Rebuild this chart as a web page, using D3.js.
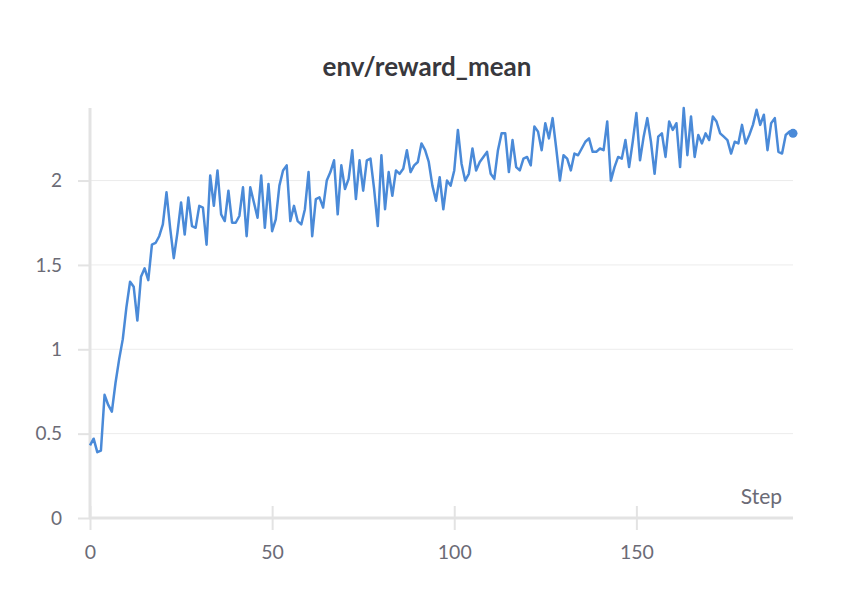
<!DOCTYPE html>
<html>
<head>
<meta charset="utf-8">
<script src="https://cdn.jsdelivr.net/npm/d3@7"></script>
<style>
  body { margin: 0; background: #fff; }
  text { font-family: Lato, "Open Sans", sans-serif; }
</style>
</head>
<body>
<svg id="chart" width="852" height="590"></svg>
<script>
const title = 'env/reward_mean';
const xLabel = 'Step';
const xTicks = [0, 50, 100, 150];
const yTicks = [0, 0.5, 1, 1.5, 2];
const yTickLabels = ['0', '0.5', '1', '1.5', '2'];

// reward_mean per step
const rewardMean = [
  0.43, 0.47, 0.39, 0.40, 0.73, 0.67, 0.63, 0.80, 0.94, 1.06,
  1.25, 1.40, 1.37, 1.17, 1.43, 1.48, 1.41, 1.62, 1.63, 1.67,
  1.74, 1.93, 1.72, 1.54, 1.69, 1.87, 1.68, 1.90, 1.73, 1.72,
  1.85, 1.84, 1.62, 2.03, 1.85, 2.06, 1.80, 1.76, 1.94, 1.75,
  1.75, 1.79, 1.96, 1.67, 1.96, 1.87, 1.78, 2.03, 1.72, 1.98,
  1.70, 1.77, 1.97, 2.06, 2.09, 1.76, 1.85, 1.76, 1.74, 1.83,
  2.05, 1.67, 1.89, 1.90, 1.84, 2.00, 2.05, 2.12, 1.80, 2.09,
  1.95, 2.01, 2.18, 1.89, 2.12, 1.94, 2.12, 2.13, 1.95, 1.73,
  2.15, 1.83, 2.05, 1.91, 2.06, 2.04, 2.07, 2.18, 2.05, 2.09,
  2.11, 2.22, 2.18, 2.11, 1.97, 1.88, 2.02, 1.83, 2.00, 1.97,
  2.06, 2.30, 2.10, 2.00, 2.04, 2.19, 2.06, 2.11, 2.14, 2.17,
  2.04, 2.01, 2.18, 2.28, 2.28, 2.05, 2.24, 2.08, 2.06, 2.13,
  2.14, 2.09, 2.32, 2.29, 2.18, 2.34, 2.25, 2.37, 2.19, 2.00,
  2.15, 2.13, 2.06, 2.16, 2.15, 2.19, 2.23, 2.25, 2.17, 2.17,
  2.19, 2.18, 2.35, 2.00, 2.08, 2.14, 2.13, 2.24, 2.08, 2.23,
  2.40, 2.12, 2.26, 2.37, 2.23, 2.04, 2.26, 2.28, 2.14, 2.35,
  2.30, 2.34, 2.08, 2.43, 2.15, 2.38, 2.14, 2.27, 2.22, 2.28,
  2.24, 2.38, 2.35, 2.28, 2.26, 2.24, 2.16, 2.23, 2.22, 2.33,
  2.22, 2.27, 2.33, 2.42, 2.33, 2.39, 2.18, 2.34, 2.37, 2.17,
  2.16, 2.27, 2.29, 2.28
];

const svg = d3.select('#chart');
const plotLeft = 90, plotRight = 793, plotTop = 108, plotBottom = 518;
const axisColor = '#e3e3e3';
const textColor = '#6b6b76';

const x = d3.scaleLinear()
  .domain([0, rewardMean.length - 1])
  .range([plotLeft, plotRight]);

const y = d3.scaleLinear()
  .domain([0, d3.max(rewardMean)])
  .range([plotBottom, plotTop]);

// gridlines
svg.append('g')
  .selectAll('line')
  .data(yTicks.filter(d => d > 0))
  .join('line')
    .attr('x1', plotLeft)
    .attr('x2', plotRight)
    .attr('y1', d => y(d))
    .attr('y2', d => y(d))
    .attr('stroke', '#ececec')
    .attr('stroke-width', 1);

// y axis
const yAxis = svg.append('g')
  .attr('transform', `translate(${plotLeft},0)`)
  .call(d3.axisLeft(y).tickValues(yTicks).tickSize(12).tickPadding(16)
    .tickFormat((d, i) => yTickLabels[i]));
yAxis.select('.domain').remove();
yAxis.selectAll('.tick line').attr('stroke', axisColor).attr('stroke-width', 2);
yAxis.selectAll('.tick text')
  .attr('fill', textColor)
  .style('font-size', '19px');
svg.append('line')
  .attr('x1', plotLeft).attr('x2', plotLeft)
  .attr('y1', plotTop).attr('y2', plotBottom + 1)
  .attr('stroke', axisColor)
  .attr('stroke-width', 3);

// x axis
const xAxis = svg.append('g')
  .attr('transform', `translate(0,${plotBottom})`)
  .call(d3.axisBottom(x).tickValues(xTicks).tickSize(12).tickPadding(15));
xAxis.select('.domain').remove();
xAxis.selectAll('.tick line')
  .attr('y1', -12)
  .attr('stroke', axisColor)
  .attr('stroke-width', 2);
xAxis.selectAll('.tick text')
  .attr('fill', textColor)
  .style('font-size', '19.5px');
svg.append('line')
  .attr('x1', plotLeft - 1).attr('x2', plotRight)
  .attr('y1', plotBottom).attr('y2', plotBottom)
  .attr('stroke', axisColor)
  .attr('stroke-width', 3);

svg.append('text')
  .attr('x', 782)
  .attr('y', 504)
  .attr('text-anchor', 'end')
  .attr('fill', textColor)
  .style('font-size', '21px')
  .text(xLabel);

// title
svg.append('text')
  .attr('x', 427)
  .attr('y', 76)
  .attr('text-anchor', 'middle')
  .attr('fill', '#38383d')
  .style('font-size', '26px')
  .style('font-weight', 700)
  .text(title);

// line
const line = d3.line()
  .x((d, i) => x(i))
  .y(d => y(d));

svg.append('path')
  .datum(rewardMean)
  .attr('fill', 'none')
  .attr('stroke', '#4a8ad8')
  .attr('stroke-width', 2.5)
  .attr('stroke-linejoin', 'round')
  .attr('d', line);

const last = rewardMean.length - 1;
svg.append('circle')
  .attr('cx', x(last))
  .attr('cy', y(rewardMean[last]))
  .attr('r', 4.5)
  .attr('fill', '#4a8ad8');
</script>
</body>
</html>
